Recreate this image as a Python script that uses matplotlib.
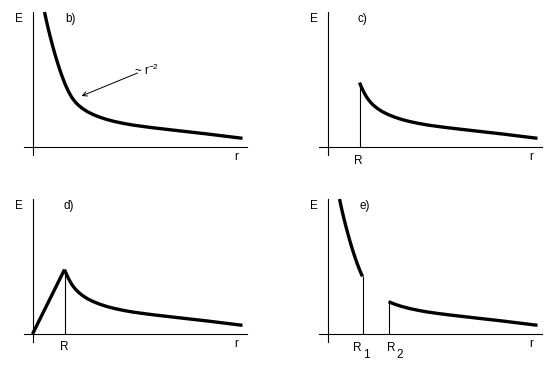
import matplotlib
matplotlib.use('Agg')
import matplotlib.pyplot as plt

# ---- data (schematic field strength E vs distance r) ----
curve_r = [12, 14, 16, 18, 20, 22, 24, 26, 28, 30, 32, 34, 35, 36, 38, 40, 43,
           46, 50, 55, 61, 67, 74, 82, 91, 100, 110, 120, 132, 145, 160, 175,
           192, 210]
curve_E = [135, 125.8, 117.2, 109.2, 101.6, 94.4, 87.6, 81.2, 75.2, 69.6,
           64.4, 59.7, 57.6, 55.5, 51.8, 48.6, 44.7, 41.7, 38.5, 35.25, 32.3,
           29.9, 27.6, 25.5, 23.6, 22.0, 20.6, 19.3, 17.9, 16.4, 14.7, 13.0,
           10.9, 8.7]
R_c = 32
R_d = 32
R1 = 35
R2 = 61
d_inner_r = [0, 32]
d_inner_E = [0, 64.4]
panel_labels = ['b)', 'c)', 'd)', 'e)']

plt.rcParams['font.family'] = ['Liberation Sans', 'DejaVu Sans']

W, H = 558, 375
fig = plt.figure(figsize=(W / 100, H / 100), dpi=100)

E_at = dict(zip(curve_r, curve_E))

THICK = 2.4
THIN = 0.8
FS = 8.5


def make_ax(left_px, top_px):
    ax = fig.add_axes([left_px / W, 1 - (top_px + 143) / H, 223 / W, 143 / H])
    ax.set_xlim(-8.5, 214.5)
    ax.set_ylim(-8, 135)
    for s in ['top', 'right']:
        ax.spines[s].set_visible(False)
    ax.spines['left'].set_position(('data', 0))
    ax.spines['bottom'].set_position(('data', 0))
    for s in ['left', 'bottom']:
        ax.spines[s].set_linewidth(THIN)
    ax.set_xticks([])
    ax.set_yticks([])
    ax.patch.set_visible(False)
    ax.text(-13.5, 128, 'E', ha='center', va='center', fontsize=FS, clip_on=False)
    ax.text(203.5, -10, 'r', ha='center', va='center', fontsize=FS, clip_on=False)
    return ax


def seg(lo=None, hi=None):
    rs, es = [], []
    for r, e in zip(curve_r, curve_E):
        if (lo is None or r >= lo) and (hi is None or r <= hi):
            rs.append(r)
            es.append(e)
    return rs, es


def curve(ax, rs, es):
    ax.plot(rs, es, color='black', lw=THICK, clip_on=False,
            solid_capstyle='butt', solid_joinstyle='round')


# b) point charge
ax = make_ax(24, 12)
curve(ax, *seg())
ax.text(32.5, 128, panel_labels[0], ha='left', va='center', fontsize=FS)
ax.annotate('', xy=(49, 51), xytext=(105, 74),
            arrowprops=dict(arrowstyle='->', lw=0.7, color='black',
                            shrinkA=0, shrinkB=0, mutation_scale=8))
ax.text(101, 77, r'~ r$^{\mathregular{-2}}$', ha='left', va='center', fontsize=FS)

# c) shell
ax = make_ax(319, 12)
curve(ax, *seg(lo=R_c))
ax.vlines(R_c, 0, E_at[R_c], color='black', lw=THIN)
ax.text(29.5, 128, panel_labels[1], ha='left', va='center', fontsize=FS)
ax.text(R_c - 1, -14, 'R', ha='center', va='center', fontsize=FS, clip_on=False)

# d) solid sphere
ax = make_ax(24, 199)
curve(ax, d_inner_r, d_inner_E)
curve(ax, *seg(lo=R_d))
ax.vlines(R_d, 0, E_at[R_d], color='black', lw=THIN)
ax.text(31.5, 128.5, panel_labels[2], ha='left', va='center', fontsize=FS)
ax.text(R_d, -13.5, 'R', ha='center', va='center', fontsize=FS, clip_on=False)

# e) two shells
ax = make_ax(319, 199)
curve(ax, *seg(hi=R1))
ax.vlines(R1, 0, E_at[R1], color='black', lw=THIN)
curve(ax, *seg(lo=R2))
ax.vlines(R2, 0, E_at[R2], color='black', lw=THIN)
ax.text(32.5, 128.5, panel_labels[3], ha='left', va='center', fontsize=FS)
ax.text(R1 - 5, -14, 'R', ha='center', va='center', fontsize=FS, clip_on=False)
ax.text(R1 + 3.5, -21, '1', ha='center', va='center', fontsize=FS, clip_on=False)
ax.text(R2 + 3, -14, 'R', ha='center', va='center', fontsize=FS, clip_on=False)
ax.text(R2 + 11.5, -21, '2', ha='center', va='center', fontsize=FS, clip_on=False)

fig.savefig('out.png', dpi=100, facecolor='white')
